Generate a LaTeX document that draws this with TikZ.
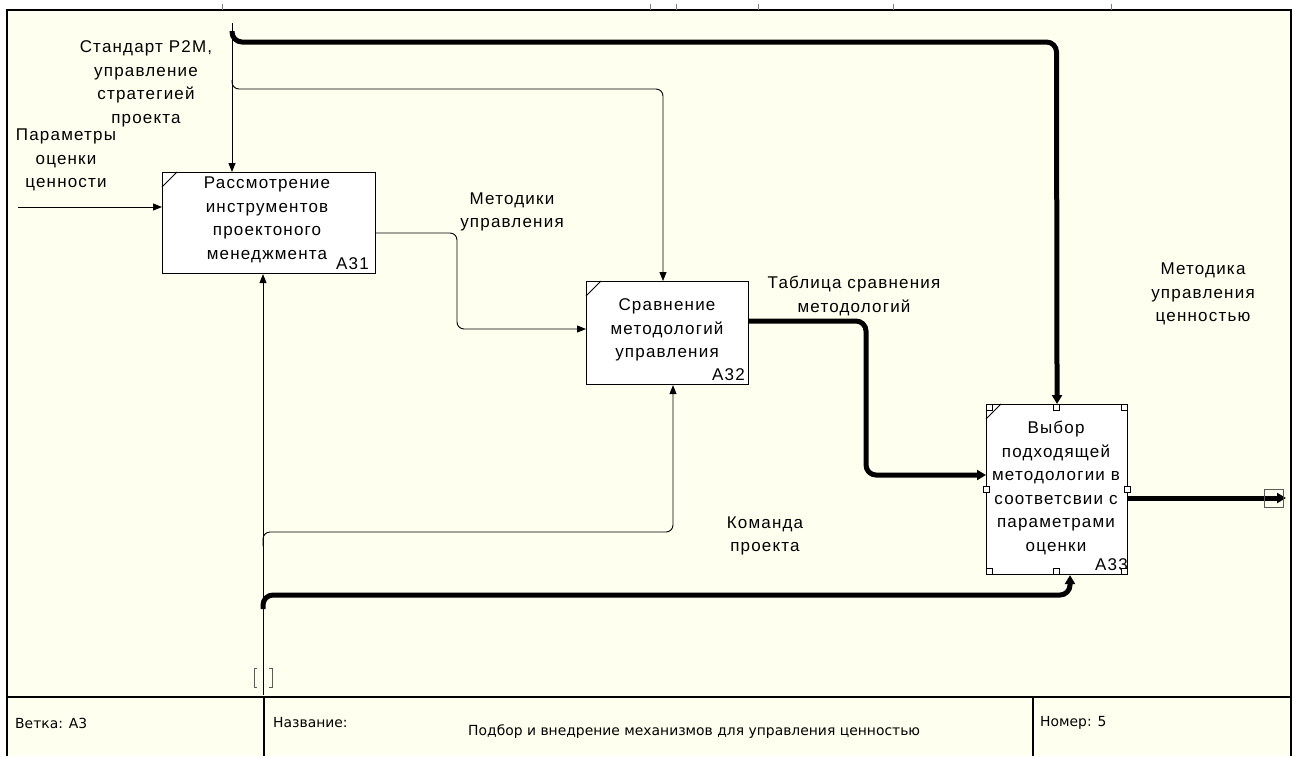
\documentclass[tikz,border=0pt]{standalone}
\usepackage{fontspec}
\setmainfont{Liberation Sans}
\newfontfamily\lblfont{Liberation Sans}[LetterSpace=7.0]
\newfontfamily\ftfont{DejaVu Sans}
\usetikzlibrary{arrows.meta}
\definecolor{paper}{RGB}{255,255,240}
\definecolor{tunnel}{RGB}{90,90,90}

\begin{document}
\begin{tikzpicture}[x=1pt,y=-1pt,
  lbl/.style={font=\lblfont\fontsize{17}{23.5}\selectfont, align=center, inner sep=0pt},
  num/.style={font=\lblfont\fontsize{17}{18}\selectfont, inner sep=0pt, anchor=south east},
  ftxt/.style={font=\ftfont\fontsize{13.9}{15}\selectfont, inner sep=0pt, anchor=west},
  fn/.style={draw=black, line width=1.1pt, fill=white, inner sep=0pt, anchor=north west},
  lnk/.style={line width=0.9pt, rounded corners=7pt},
  heavy/.style={line width=5pt, rounded corners=10pt},
  tipA/.style={-{Triangle[length=9pt,width=7pt]}},
  tipB/.style={-{Triangle[length=9pt,width=10pt]}},
  handle/.style={draw=black, fill=white, line width=0.6pt, minimum size=6pt, inner sep=0pt},
  frame/.style={line width=1.1pt}
]
% page and drawing area
\useasboundingbox (0,0) rectangle (1299,756);
\fill[white] (0,0) rectangle (1299,756);
\fill[paper] (7,10) rectangle (1291,756);
\draw[frame] (7,756) -- (7,10) -- (1291,10) -- (1291,756);
\foreach \tx in {222,650,676,758,893,1111}
  \draw[gray, line width=0.6pt] (\tx,4) -- (\tx,10);

% footer
\draw[frame] (7,697) -- (1291,697);
\draw[frame] (264,697) -- (264,756);
\draw[frame] (1033,697) -- (1033,756);
\node[ftxt] (fBranch) at (15,723) {Ветка: A3};
\node[ftxt] (fName) at (273,723) {Название:};
\node[ftxt] (fTitle) at (468,732) {Подбор и внедрение механизмов для управления ценностью};
\node[ftxt] (fNum) at (1040,723) {Номер: 5};

% activity boxes
\node[fn, minimum width=213pt, minimum height=101pt] (a31) at (162,172) {};
\node[fn, minimum width=162pt, minimum height=103pt] (a32) at (586,281) {};
\node[fn, minimum width=141pt, minimum height=170pt] (a33) at (986,404) {};

% corner marks
\draw[line width=0.8pt] (162,187) -- (177,172);
\draw[line width=0.8pt] (586,296) -- (601,281);
\draw[line width=0.8pt] (986,419) -- (1001,404);

% box texts
\node[lbl] (t31) at (267,220) {Рассмотрение\\инструментов\\проектоного\\менеджмента};
\node[lbl] (t32) at (667,330) {Сравнение\\методологий\\управления};
\node[lbl] (t33) at (1056,488) {Выбор\\подходящей\\методологии в\\соответсвии с\\параметрами\\оценки};
\node[num] (n31) at (369,270) {A31};
\node[num] (n32) at (745,381) {A32};
\node[num] (n33) at (1128,571) {A33};

% selection handles of A33
\foreach \hx/\hy in {989/407,1056.5/407,1124/407,989/571,1056.5/571,1124/571,986/489,1127/489}
  \node[handle] at (\hx,\hy) {};

% free ends of the arrows
\coordinate (cTop) at (232,23);
\coordinate (cHeavy) at (232,31);
\coordinate (cBr) at (232,80);
\coordinate (inL) at (18,207);
\coordinate (outEnd) at (1286,498);
\coordinate (mBot) at (263,695);
\coordinate (mBr) at (263,546);
\coordinate (mHeavy) at (263,609);

% controls
\draw[lnk,tipA] (cTop) -- (cTop |- a31.north);
\draw[heavy,tipB] (cHeavy) -- (232,42) -- (1056.5,42) -- (a33.north);
\draw[lnk,tipA] (cBr) -- (232,89) -- (663,89) -- (a32.north -| 663,0);

% input
\draw[lnk,tipA] (inL) -- (inL -| a31.west);

% outputs
\draw[lnk,tipA] (a31.east |- 0,233) -- (457,233) -- (457,329) -- (a32.west |- 0,329);
\draw[heavy,tipB] (a32.east |- 0,321) -- (866,321) -- (866,475) -- (a33.west |- 0,475);
\draw[heavy,tipB] (a33.east |- 0,498) -- (outEnd);
\draw[tunnel, line width=0.7pt] (1264,489) rectangle (1283,507);

% mechanisms
\draw[lnk,tipA] (mBot) -- (mBot |- a31.south);
\draw[lnk,tipA] (mBr) -- (263,532) -- (673,532) -- (a32.south -| 673,0);
\draw[heavy,tipB] (mHeavy) -- (263,595) -- (1070,595) -- (a33.south -| 1070,0);
\draw[tunnel, line width=0.7pt] (257,668) -- (254,668) -- (254,687) -- (257,687);
\draw[tunnel, line width=0.7pt] (269,668) -- (272,668) -- (272,687) -- (269,687);

% arrow labels
\node[lbl] (lCtrl) at (146,84) {Стандарт P2M,\\управление\\стратегией\\проекта};
\node[lbl] (lIn) at (66,160) {Параметры\\оценки\\ценности};
\node[lbl] (lMet) at (512,212) {Методики\\управления};
\node[lbl] (lTab) at (854,296) {Таблица сравнения\\методологий};
\node[lbl] (lOut) at (1203,294) {Методика\\управления\\ценностью};
\node[lbl] (lTeam) at (765,536) {Команда\\проекта};
\end{tikzpicture}
\end{document}
